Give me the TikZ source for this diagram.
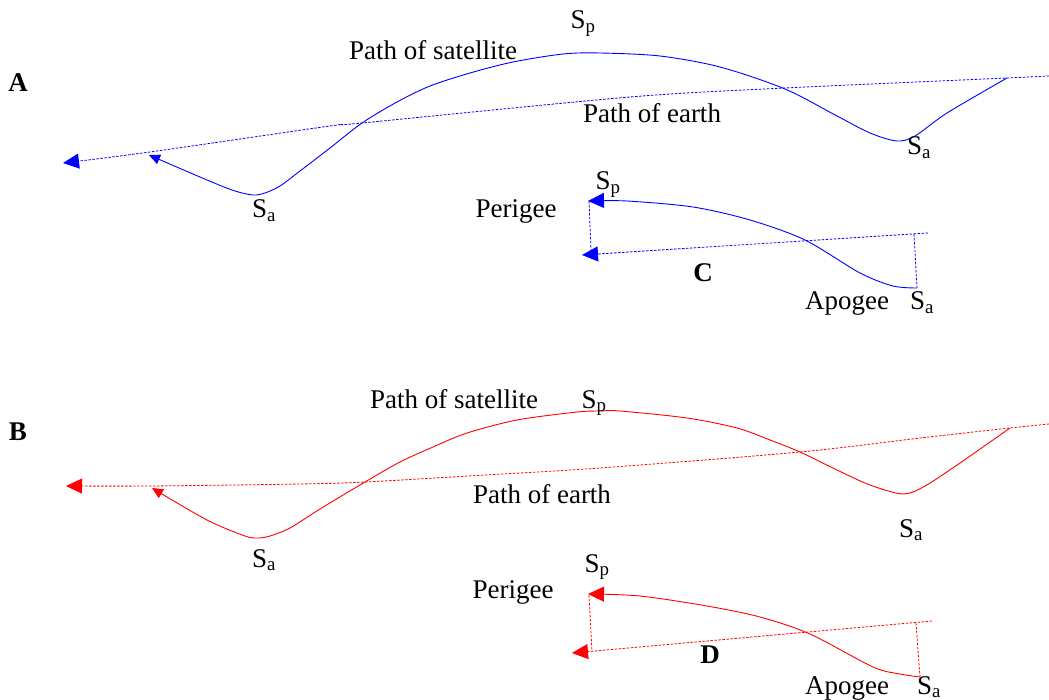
\documentclass[tikz,border=0pt]{standalone}
\usepackage{fontspec}
\setmainfont{Liberation Serif}
\usetikzlibrary{arrows.meta}
\begin{document}
\begin{tikzpicture}[x=1pt,y=-1pt,
  lbl/.style={anchor=base,inner sep=0pt,font=\fontsize{27}{31}\selectfont},
  panel/.style={lbl,font=\fontsize{27}{31}\selectfont\bfseries},
  sat/.style={line width=0.9pt},
  earth/.style={line width=0.8pt,dash pattern=on 2.5pt off 1.5pt},
  bigtip/.style={-{Triangle[length=16pt,width=15pt]}},
  smalltip/.style={-{Triangle[length=11pt,width=10pt]}}]
\useasboundingbox (0,0) rectangle (1049,700);

% ---------------- Panel A (blue) ----------------
\coordinate (AeR) at (1049,76);
\coordinate (AeL) at (63,163);
\coordinate (AsR) at (1007,78);
\coordinate (AsL) at (149,155);
\draw[earth,blue,bigtip] plot[smooth] coordinates {(AeR) (1007,78) (785,88) (630,97) (362,123) (330,126) (150,152) (AeL)};
\draw[sat,blue,smalltip] plot[smooth] coordinates {(AsR) (947,113) (915,136) (897,141) (870,133) (837,116) (785,89) (720,67) (660,56) (600,53) (563,54) (513,62) (470,73) (430,86) (397,102) (362,123) (330,148) (300,171) (280,186) (265,193) (253,195) (235,191) (207,180) (AsL)};
\node[panel] (lA) at (18,92) {A};
\node[lbl] (spA) at (583,29) {S\textsubscript{p}};
\node[lbl] (psA) at (433,60) {Path of satellite};
\node[lbl] (peA) at (652,123) {Path of earth};
\node[lbl] (saA1) at (919,155) {S\textsubscript{a}};
\node[lbl] (saA2) at (264,218) {S\textsubscript{a}};

% ---------------- Panel C (blue) ----------------
\coordinate (CsA) at (917,288);
\coordinate (CsP) at (588,201);
\coordinate (CeR) at (928,233);
\coordinate (CeL) at (582,255);
\coordinate (CvT) at (914,234);
\coordinate (ClT) at (589,201);
\coordinate (ClB) at (591,250);
\draw[sat,blue,bigtip] plot[smooth] coordinates {(CsA) (893,286) (860,273) (805,240) (750,220) (693,207) (627,201) (CsP)};
\draw[earth,blue,bigtip] (CeR) -- (CeL);
\draw[earth,blue] (CvT) -- (CsA);
\draw[earth,blue] (ClT) -- (ClB);
\node[lbl] (spC) at (608,190) {S\textsubscript{p}};
\node[lbl] (perC) at (516,218) {Perigee};
\node[panel] (lC) at (703,282) {C};
\node[lbl] (apC) at (847,310) {Apogee};
\node[lbl] (saC) at (922,310) {S\textsubscript{a}};

% ---------------- Panel B (red) ----------------
\coordinate (BeR) at (1049,424);
\coordinate (BeL) at (66,486);
\coordinate (BsR) at (1010,428);
\coordinate (BsL) at (152,488);
\draw[earth,red,bigtip] plot[smooth] coordinates {(BeR) (1010,428) (920,438) (800,452) (600,468) (485,475) (365,482) (300,484) (150,486) (BeL)};
\draw[sat,red,smalltip] plot[smooth] coordinates {(BsR) (960,463) (925,486) (903,494) (870,485) (837,470) (800,452) (770,440) (737,428) (687,418) (620,411) (600,411) (577,412) (517,420) (467,433) (433,447) (400,462) (365,482) (320,509) (290,528) (270,536) (258,538) (245,536) (207,520) (BsL)};
\node[panel] (lB) at (18,440) {B};
\node[lbl] (psB) at (454,408) {Path of satellite};
\node[lbl] (spB) at (594,408) {S\textsubscript{p}};
\node[lbl] (peB) at (542,503) {Path of earth};
\node[lbl] (saB1) at (911,537) {S\textsubscript{a}};
\node[lbl] (saB2) at (264,567) {S\textsubscript{a}};

% ---------------- Panel D (red) ----------------
\coordinate (DsA) at (920,677);
\coordinate (DsP) at (588,594);
\coordinate (DeR) at (932,621);
\coordinate (DeL) at (572,653);
\coordinate (DvT) at (916,623);
\coordinate (DlT) at (589,595);
\coordinate (DlB) at (592,652);
\draw[sat,red,bigtip] plot[smooth] coordinates {(DsA) (900,674) (873,667) (810,634) (760,617) (707,606) (640,596) (DsP)};
\draw[earth,red,bigtip] (DeR) -- (DeL);
\draw[earth,red] (DvT) -- (DsA);
\draw[earth,red] (DlT) -- (DlB);
\node[lbl] (spD) at (597,572) {S\textsubscript{p}};
\node[lbl] (perD) at (513,598) {Perigee};
\node[panel] (lD) at (710,663) {D};
\node[lbl] (apD) at (847,694) {Apogee};
\node[lbl] (saD) at (929,694) {S\textsubscript{a}};
\end{tikzpicture}
\end{document}
